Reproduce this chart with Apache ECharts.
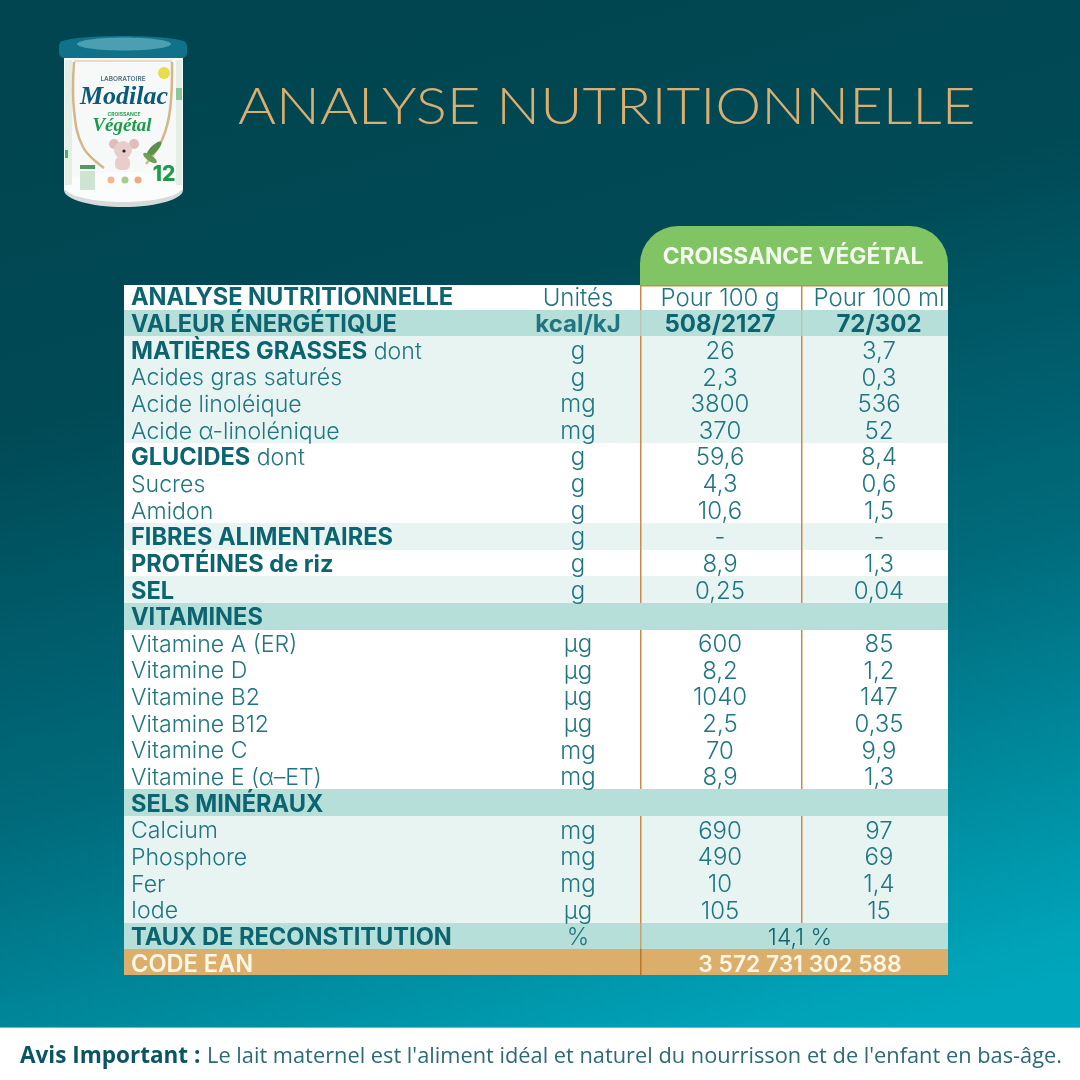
<!DOCTYPE html>
<html>
<head>
<meta charset="utf-8">
<script src="https://cdn.jsdelivr.net/npm/echarts@6/dist/echarts.min.js"></script>
<style>html,body{margin:0;padding:0;background:#fff}#chart{width:1080px;height:1080px}</style>
</head>
<body>
<div id="chart"></div>
<script>
var boldLabels = ['ANALYSE NUTRITIONNELLE', 'VALEUR ÉNERGÉTIQUE', 'MATIÈRES GRASSES', '', '', '', 'GLUCIDES', '', '', 'FIBRES ALIMENTAIRES', 'PROTÉINES de riz', 'SEL', 'VITAMINES', '', '', '', '', '', '', 'SELS MINÉRAUX', '', '', '', '', 'TAUX DE RECONSTITUTION', 'CODE EAN'];
var lightLabels = ['', '', ' dont', 'Acides gras saturés', 'Acide linoléique', 'Acide α-linolénique', ' dont', 'Sucres', 'Amidon', '', '', '', '', 'Vitamine A (ER)', 'Vitamine D', 'Vitamine B2', 'Vitamine B12', 'Vitamine C', 'Vitamine E (α–ET)', '', 'Calcium', 'Phosphore', 'Fer', 'Iode', '', ''];
var units = ['Unités', 'kcal/kJ', 'g', 'g', 'mg', 'mg', 'g', 'g', 'g', 'g', 'g', 'g', '', 'µg', 'µg', 'µg', 'µg', 'mg', 'mg', '', 'mg', 'mg', 'mg', 'µg', '%', ''];
var per100g = ['Pour 100 g', '508/2127', '26', '2,3', '3800', '370', '59,6', '4,3', '10,6', '-', '8,9', '0,25', '', '600', '8,2', '1040', '2,5', '70', '8,9', '', '690', '490', '10', '105', '', ''];
var per100ml = ['Pour 100 ml', '72/302', '3,7', '0,3', '536', '52', '8,4', '0,6', '1,5', '-', '1,3', '0,04', '', '85', '1,2', '147', '0,35', '9,9', '1,3', '', '97', '69', '1,4', '15', '', ''];
var merged = { 24: '14,1 %', 25: '3 572 731 302 588' };
var rowKinds = ['white', 'band', 'pale', 'pale', 'pale', 'pale', 'white', 'white', 'white', 'pale', 'white', 'pale', 'band', 'white', 'white', 'white', 'white', 'white', 'white', 'band', 'pale', 'pale', 'pale', 'pale', 'band', 'gold'];
var productName = 'CROISSANCE VÉGÉTAL';
var pageTitle = 'ANALYSE NUTRITIONNELLE';

var rowColors = { white: '#ffffff', band: '#b6dfd9', pale: '#e8f4f2', gold: '#dcae6c' };
var textDark = '#0c6470';
var textLight = '#1f7580';
var FONT = 'Inter';
var TABLE_TOP = 285;
var TABLE_BOTTOM = 975;

var rows = [];
for (var i = 0; i < boldLabels.length; i++) {
	rows.push(i);
}

var chart = echarts.init(document.getElementById('chart'));

// snap a row to whole pixels, otherwise the background shows through between rows
function rowBox(api, idx) {
	var c = api.coord([0, idx]);
	var h = api.size([0, 1])[1];
	var top = Math.max(Math.round(c[1] - h / 2), TABLE_TOP);
	var bottom = Math.min(Math.round(c[1] + h / 2), TABLE_BOTTOM);
	return { top: top, height: bottom - top };
}

function renderBand(params, api) {
	var idx = api.value(0);
	var p = api.coord([0, idx]);
	var e = api.coord([824, idx]);
	var box = rowBox(api, idx);
	return {
		type: 'rect',
		shape: { x: p[0], y: box.top, width: e[0] - p[0], height: box.height },
		style: { fill: rowColors[rowKinds[idx]] }
	};
}

function renderDivider(params, api) {
	var idx = api.value(0);
	var kind = rowKinds[idx];
	var box = rowBox(api, idx);
	var kids = [];
	var color = kind == 'gold' ? '#b8752f' : '#c98a4c';
	if (idx == 12 || idx == 19) {
		return { type: 'group', children: [] };
	}
	var edges = idx >= 24 ? [516] : [516, 677];
	var opacity = 1;
	if (idx == 1) {
		opacity = 0.3;
	} else if (idx == 24) {
		opacity = 0.7;
	}
	for (var j = 0; j < edges.length; j++) {
		var c = api.coord([edges[j], idx]);
		kids.push({
			type: 'rect',
			shape: { x: Math.round(c[0]), y: box.top, width: 1.5, height: box.height },
			style: { fill: color, opacity: opacity }
		});
	}
	return { type: 'group', children: kids };
}

function cellText(x, y, text, weight, color, size) {
	return {
		type: 'text',
		style: {
			x: x, y: y, text: text, fill: color,
			font: weight + ' ' + size + 'px ' + FONT,
			align: 'center', verticalAlign: 'middle'
		}
	};
}

function renderText(params, api) {
	var idx = api.value(0);
	var kind = rowKinds[idx];
	var y = api.coord([0, idx])[1] + 2;
	var kids = [];
	var x0 = api.coord([7, idx])[0];
	var bold = boldLabels[idx];
	var labelColor = kind == 'gold' ? '#fff7e8' : textDark;
	var boldFont = (kind == 'gold' ? '600' : '700') + ' 23.6px ' + FONT;
	var lightFont = '350 23.1px ' + FONT;
	if (bold && lightLabels[idx]) {
		kids.push({
			type: 'text',
			style: {
				x: x0, y: y, text: '{b|' + bold + '}{l|' + lightLabels[idx] + '}',
				verticalAlign: 'middle', align: 'left',
				rich: {
					b: { font: boldFont, fill: labelColor },
					l: { font: lightFont, fill: textLight }
				}
			}
		});
	} else if (bold) {
		kids.push({
			type: 'text',
			style: { x: x0, y: y, text: bold, fill: labelColor, font: boldFont, align: 'left', verticalAlign: 'middle' }
		});
	} else {
		kids.push({
			type: 'text',
			style: { x: x0, y: y, text: lightLabels[idx], fill: textLight, font: lightFont, align: 'left', verticalAlign: 'middle' }
		});
	}
	var isBold = idx == 1;
	var weight = isBold ? 700 : 350;
	var size = 24;
	var ux = api.coord([454, idx])[0];
	var ax = api.coord([596, idx])[0];
	var bx = api.coord([755, idx])[0];
	var mx = api.coord([676, idx])[0];
	if (units[idx]) {
		kids.push(cellText(ux, y, units[idx], weight, textLight, size));
	}
	if (per100g[idx]) {
		kids.push(cellText(ax, y, per100g[idx], weight, isBold ? textDark : textLight, size));
	}
	if (per100ml[idx]) {
		kids.push(cellText(bx, y, per100ml[idx], weight, isBold ? textDark : textLight, size));
	}
	if (merged[idx]) {
		kids.push(cellText(mx, y, merged[idx], kind == 'gold' ? 600 : 350, kind == 'gold' ? '#fff7e8' : textDark, kind == 'gold' ? 22.8 : 23));
	}
	return { type: 'group', children: kids };
}

var option = {
	backgroundColor: {
		type: 'linear', x: 0.36, y: 0, x2: 0.64, y2: 1,
		colorStops: [
			{ offset: 0, color: '#00454f' },
			{ offset: 0.28, color: '#004a56' },
			{ offset: 0.62, color: '#006b7c' },
			{ offset: 0.96, color: '#00a2b7' },
			{ offset: 1, color: '#00a6bb' }
		]
	},
	animation: false,
	grid: { left: 124, top: 283, width: 824, height: 693, containLabel: false },
	xAxis: { type: 'value', min: 0, max: 824, show: false },
	yAxis: { type: 'category', data: boldLabels.map(function (b, k) { return b + lightLabels[k]; }), inverse: true, show: false },
	series: [
		{ type: 'custom', name: 'rows', data: rows, renderItem: renderBand, silent: true, z: 2, clip: false, encode: { y: 0 } },
		{ type: 'custom', name: 'dividers', data: rows, renderItem: renderDivider, silent: true, z: 3, clip: false, encode: { y: 0 } },
		{ type: 'custom', name: 'texts', data: rows, renderItem: renderText, silent: true, z: 4, clip: false, encode: { y: 0 } }
	],
	graphic: { elements: [
		{ type: 'text', z: 10, x: 238, y: 108, scaleX: 1.14, style: { text: pageTitle, fill: '#d9ae70', font: '300 51px Lato', verticalAlign: 'middle' } },
		{ type: 'rect', z: 1, shape: { x: 640, y: 226, width: 308, height: 59, r: [38, 38, 0, 0] }, style: { fill: '#80c463' } },
		{ type: 'rect', z: 5, shape: { x: 640, y: 285, width: 308, height: 1.5 }, style: { fill: '#c98a4c' } },
		{ type: 'text', z: 10, x: 793, y: 257, style: { text: productName, fill: '#f4fbef', font: '700 22.8px ' + FONT, align: 'center', verticalAlign: 'middle' } },
		{ type: 'rect', z: 10, shape: { x: 0, y: 1027, width: 1080, height: 1 }, style: { fill: '#5fc0cc' } },
		{ type: 'rect', z: 10, shape: { x: 0, y: 1028, width: 1080, height: 52 }, style: { fill: '#ffffff' } },
		{ type: 'text', z: 11, x: 20, y: 1057, style: { text: 'Avis Important :', fill: '#0b5463', font: '700 22.5px "Open Sans"', verticalAlign: 'middle' } },
		{ type: 'text', z: 11, x: 207, y: 1057, style: { text: 'Le lait maternel est l\'aliment idéal et naturel du nourrisson et de l\'enfant en bas-âge.', fill: '#2c6a76', font: '400 21.8px "Open Sans"', verticalAlign: 'middle' } },
		// boite de lait
		{ type: 'group', z: 20, children: [
			{ type: 'ellipse', shape: { cx: 123.5, cy: 190, rx: 59.5, ry: 17 }, style: { fill: '#d5dbda' } },
			{ type: 'rect', shape: { x: 64, y: 56, width: 119, height: 134 }, style: { fill: '#f7f9f8' } },
			{ type: 'ellipse', shape: { cx: 123.5, cy: 187, rx: 59, ry: 15 }, style: { fill: '#fbfcfc' } },
			{ type: 'rect', shape: { x: 65, y: 60, width: 7, height: 125 }, style: { fill: '#e3eee4' } },
			{ type: 'rect', shape: { x: 176, y: 60, width: 6, height: 125 }, style: { fill: '#e3eee4' } },
			{ type: 'rect', shape: { x: 176, y: 88, width: 6, height: 12 }, style: { fill: '#8cc79a' } },
			{ type: 'rect', shape: { x: 65, y: 150, width: 3, height: 8 }, style: { fill: '#4fae68' } },
			{ type: 'polyline', shape: { smooth: 0.4, points: [[74, 62], [74, 110], [83, 147], [104, 168]] }, style: { fill: 'none', stroke: '#d1b78a', lineWidth: 2.5 } },
			{ type: 'polyline', shape: { smooth: 0.4, points: [[172, 62], [170, 110], [162, 140], [146, 164]] }, style: { fill: 'none', stroke: '#d1b78a', lineWidth: 2.5 } },
			{ type: 'line', shape: { x1: 74, y1: 61, x2: 172, y2: 61 }, style: { stroke: '#e2d3b6', lineWidth: 1.5 } },
			{ type: 'rect', shape: { x: 59, y: 41, width: 128, height: 17, r: 5 }, style: { fill: '#10728a' } },
			{ type: 'ellipse', shape: { cx: 123, cy: 43, rx: 63, ry: 7 }, style: { fill: '#10728a' } },
			{ type: 'ellipse', shape: { cx: 124, cy: 44, rx: 47, ry: 6.5 }, style: { fill: '#4c9fb0' } },
			{ type: 'circle', shape: { cx: 164, cy: 73, r: 6 }, style: { fill: '#e9dc4e' } },
			{ type: 'text', x: 123, y: 79, style: { text: 'LABORATOIRE', fill: '#4c6d78', font: '600 6.5px ' + FONT, align: 'center', verticalAlign: 'middle' } },
			{ type: 'text', x: 124, y: 97, style: { text: 'Modilac', fill: '#0d5a78', font: 'italic 700 26px "Liberation Serif"', align: 'center', verticalAlign: 'middle' } },
			{ type: 'text', x: 124, y: 114, style: { text: 'CROISSANCE', fill: '#2f9d52', font: '700 5px ' + FONT, align: 'center', verticalAlign: 'middle' } },
			{ type: 'text', x: 122, y: 126, style: { text: 'Végétal', fill: '#1f9a4d', font: 'italic 700 19px "Liberation Serif"', align: 'center', verticalAlign: 'middle' } },
			{ type: 'circle', shape: { cx: 114, cy: 144, r: 5 }, style: { fill: '#e0bdbb' } },
			{ type: 'circle', shape: { cx: 134, cy: 144, r: 5 }, style: { fill: '#e0bdbb' } },
			{ type: 'circle', shape: { cx: 123, cy: 150, r: 9 }, style: { fill: '#e8cdca' } },
			{ type: 'rect', shape: { x: 115, y: 157, width: 15, height: 13, r: 5 }, style: { fill: '#e8cdca' } },
			{ type: 'circle', shape: { cx: 124, cy: 151, r: 1.6 }, style: { fill: '#222222' } },
			{ type: 'ellipse', shape: { cx: 154, cy: 149, rx: 10, ry: 3.5 }, rotation: 0.8, originX: 154, originY: 149, style: { fill: '#5d8f4c' } },
			{ type: 'ellipse', shape: { cx: 150, cy: 158, rx: 8, ry: 3 }, rotation: -0.6, originX: 150, originY: 158, style: { fill: '#6f9f57' } },
			{ type: 'text', x: 164, y: 175, style: { text: '12', fill: '#1f9a4d', font: '800 21px ' + FONT, align: 'center', verticalAlign: 'middle' } },
			{ type: 'rect', shape: { x: 80, y: 165, width: 15, height: 4 }, style: { fill: '#4f9a63' } },
			{ type: 'rect', shape: { x: 80, y: 171, width: 15, height: 19 }, style: { fill: '#cfe3d2' } },
			{ type: 'circle', shape: { cx: 111, cy: 180, r: 3.5 }, style: { fill: '#f2b88d' } },
			{ type: 'circle', shape: { cx: 125, cy: 180, r: 3.5 }, style: { fill: '#a5cc8c' } },
			{ type: 'circle', shape: { cx: 138, cy: 180, r: 3.5 }, style: { fill: '#f0a97c' } }
		] }
	] }
};
chart.setOption(option);
window.onresize = chart.resize;
</script>
</body>
</html>
